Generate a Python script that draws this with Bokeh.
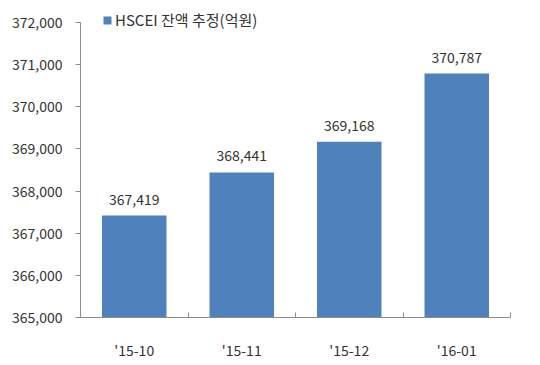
from bokeh.plotting import figure
from bokeh.models import (ColumnDataSource, Range1d, FixedTicker, LabelSet,
                          Legend, LegendItem, NumeralTickFormatter)
from bokeh.core.properties import value
from bokeh.embed import file_html
from bokeh.resources import INLINE

categories = ["'15-10", "'15-11", "'15-12", "'16-01"]
values = [367419, 368441, 369168, 370787]
series_name = "HSCEI 잔액 추정(억원)"
y_ticks = [365000, 366000, 367000, 368000, 369000, 370000, 371000, 372000]

FONT = "Noto Sans CJK KR"
TXT = "#333333"
BAR = "#4F81BD"
AX = "#8C8C8C"

Y0, Y1 = y_ticks[0], y_ticks[-1]
YPX = (Y1 - Y0) / 295.0          # data units per pixel
HEADROOM = 14                     # px above the top tick for the legend

xs = [i + 0.5 for i in range(len(categories))]
src = ColumnDataSource(dict(x=xs, top=values,
                            lbl=[f"{v:,}" for v in values]))

p = figure(width=540, height=365, output_backend="svg", toolbar_location=None,
           x_range=Range1d(0, len(categories)),
           y_range=Range1d(Y0, Y1 + HEADROOM * YPX),
           min_border_left=80, min_border_right=30, min_border_top=22 - HEADROOM,
           min_border_bottom=48)
p.outline_line_color = None
p.xgrid.visible = False
p.ygrid.visible = False

r = p.vbar(x="x", top="top", bottom=Y0, width=0.6, source=src,
           fill_color=BAR, line_color=None)

p.add_layout(LabelSet(x="x", y="top", text="lbl", source=src, y_offset=11,
                      text_align="center", text_baseline="bottom",
                      text_font=value(FONT), text_font_size="14px",
                      text_color=TXT))

# x axis
p.xaxis.ticker = FixedTicker(ticks=xs, minor_ticks=list(range(len(categories) + 1)))
p.xaxis.major_label_overrides = {x: c for x, c in zip(xs, categories)}
p.xaxis.major_tick_line_color = None
p.xaxis.minor_tick_in = 5
p.xaxis.minor_tick_out = 0
p.xaxis.minor_tick_line_color = AX
p.xaxis.axis_line_color = AX
p.xaxis.major_label_standoff = 16
p.xaxis.major_label_text_font = FONT
p.xaxis.major_label_text_font_size = "14px"
p.xaxis.major_label_text_color = TXT

# y axis
p.yaxis.ticker = FixedTicker(ticks=y_ticks)
p.yaxis.bounds = (Y0, Y1)
p.yaxis.formatter = NumeralTickFormatter(format="0,0")
p.yaxis.minor_tick_line_color = None
p.yaxis.major_tick_in = 0
p.yaxis.major_tick_out = 5
p.yaxis.major_tick_line_color = AX
p.yaxis.axis_line_color = AX
p.yaxis.major_label_standoff = 13
p.yaxis.major_label_text_font = FONT
p.yaxis.major_label_text_font_size = "14px"
p.yaxis.major_label_text_color = TXT

legend = Legend(items=[LegendItem(label=series_name, renderers=[r])],
                location="top_left", orientation="horizontal",
                glyph_width=10, glyph_height=10, label_standoff=3,
                label_height=16, padding=0, margin=0, spacing=0,
                label_text_font=FONT, label_text_font_size="15px",
                label_text_color=TXT, background_fill_alpha=0,
                border_line_color=None)
legend.location = (22, 295 + HEADROOM - 22)
p.add_layout(legend)

open("out.html", "w").write(file_html(p, INLINE))
